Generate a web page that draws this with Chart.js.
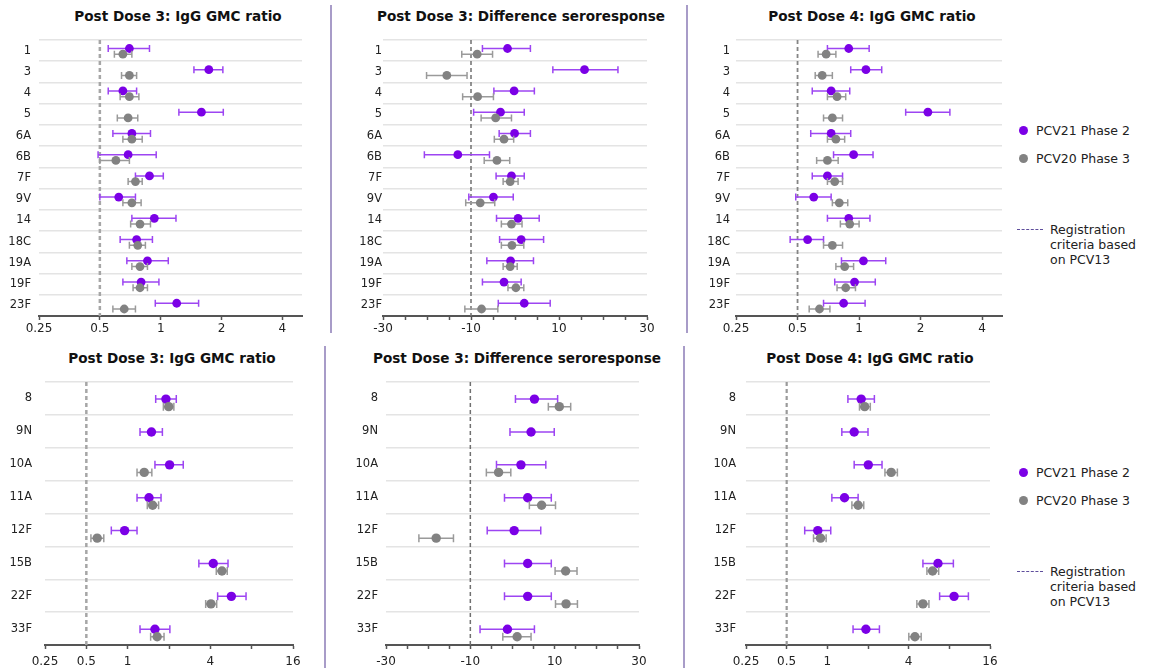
<!DOCTYPE html>
<html>
<head>
<meta charset="utf-8">
<script src="https://cdn.jsdelivr.net/npm/chart.js@4.4.1/dist/chart.umd.min.js"></script>
<style>
  body { margin: 0; background: #fff; width: 1150px; height: 670px; position: relative; overflow: hidden;
         font-family: 'DejaVu Sans', Verdana, sans-serif; color: #222; }
  canvas { position: absolute; }
  .title { position: absolute; width: 340px; text-align: center; font-weight: bold; font-size: 13.6px;
           color: #111; line-height: 16px; }
  .sep { position: absolute; width: 2px; background: #a89cc8; }
  .leg { position: absolute; font-size: 12.5px; line-height: 15px; color: #222; white-space: nowrap; }
  .dot { position: absolute; width: 9px; height: 9px; border-radius: 50%; }
  .dash { position: absolute; width: 26px; border-top: 1px dashed #5e4e9c; }
</style>
</head>
<body>

<div class="sep" style="left:330px;top:5px;height:328px"></div>
<div class="sep" style="left:686px;top:5px;height:328px"></div>
<div class="sep" style="left:324px;top:346px;height:322px"></div>
<div class="sep" style="left:683px;top:346px;height:322px"></div>

<!-- legends -->
<div class="dot" style="left:1019px;top:126px;background:#7b00e6"></div>
<div class="leg" style="left:1036px;top:123px">PCV21 Phase 2</div>
<div class="dot" style="left:1019px;top:154px;background:#828282"></div>
<div class="leg" style="left:1036px;top:151px">PCV20 Phase 3</div>
<div class="dash" style="left:1017px;top:229px"></div>
<div class="leg" style="left:1050px;top:222px">Registration<br>criteria based<br>on PCV13</div>

<div class="dot" style="left:1019px;top:468px;background:#7b00e6"></div>
<div class="leg" style="left:1036px;top:465px">PCV21 Phase 2</div>
<div class="dot" style="left:1019px;top:496px;background:#828282"></div>
<div class="leg" style="left:1036px;top:493px">PCV20 Phase 3</div>
<div class="dash" style="left:1017px;top:571px"></div>
<div class="leg" style="left:1050px;top:564px">Registration<br>criteria based<br>on PCV13</div>

<script>
// serotypes
const topSerotypes = ['1', '3', '4', '5', '6A', '6B', '7F', '9V', '14', '18C', '19A', '19F', '23F'];
const bottomSerotypes = ['8', '9N', '10A', '11A', '12F', '15B', '22F', '33F'];

// axis ticks
const gmcTicks = [0.25, 0.5, 1, 2, 4];
const gmcTickLabels = ['0.25', '0.5', '1', '2', '4'];
const gmcTicksWide = [0.25, 0.5, 1, 2, 4, 8, 16];
const gmcTickLabelsWide = ['0.25', '0.5', '1', '', '4', '', '16'];
const diffTicks = [-30, -25, -20, -15, -10, -5, 0, 5, 10, 15, 20, 25, 30];
const diffTickLabels = ['-30', '', '', '', '-10', '', '', '', '10', '', '', '', '30'];

// [estimate, lower CI, upper CI]
// Post Dose 3 IgG GMC ratio, 13 shared serotypes
const pd3GmcPcv21 = [[0.70,0.55,0.88],[1.73,1.46,2.03],[0.65,0.55,0.76],[1.59,1.23,2.04],[0.72,0.58,0.89],
  [0.69,0.49,0.95],[0.88,0.75,1.03],[0.62,0.50,0.75],[0.93,0.72,1.19],[0.76,0.63,0.91],[0.86,0.68,1.09],
  [0.80,0.65,0.98],[1.20,0.94,1.54]];
const pd3GmcPcv20 = [[0.65,0.59,0.72],[0.70,0.64,0.76],[0.70,0.63,0.78],[0.69,0.61,0.77],[0.72,0.65,0.81],
  [0.60,0.50,0.70],[0.75,0.69,0.81],[0.72,0.65,0.80],[0.79,0.71,0.89],[0.77,0.70,0.84],[0.79,0.72,0.86],
  [0.79,0.73,0.86],[0.66,0.58,0.75]];
// Post Dose 3 difference in seroresponse
const pd3DiffPcv21 = [[-1.7,-7.4,3.5],[15.8,8.6,23.4],[-0.2,-4.8,4.4],[-3.3,-9.4,2.1],[-0.1,-3.6,3.5],
  [-13.0,-20.6,-5.8],[-0.8,-4.3,2.1],[-4.9,-10.5,-0.4],[0.7,-4.2,5.5],[1.4,-3.5,6.5],[-1.0,-6.4,4.2],
  [-2.5,-7.4,1.4],[2.1,-3.8,8.0]];
const pd3DiffPcv20 = [[-8.6,-12.1,-5.1],[-15.5,-20.1,-10.9],[-8.5,-11.9,-4.9],[-4.4,-7.7,-0.8],[-2.5,-4.7,-0.3],
  [-4.1,-7.0,-1.2],[-1.1,-2.7,0.7],[-7.9,-11.2,-4.6],[-0.8,-3.1,1.6],[-0.7,-3.1,2.0],[-1.1,-2.7,0.5],
  [0.2,-1.6,2.0],[-7.6,-11.4,-3.9]];
// Post Dose 4 IgG GMC ratio
const pd4GmcPcv21 = [[0.89,0.70,1.12],[1.08,0.91,1.29],[0.73,0.59,0.90],[2.17,1.69,2.78],[0.73,0.58,0.91],
  [0.94,0.75,1.17],[0.70,0.59,0.83],[0.60,0.49,0.73],[0.89,0.70,1.13],[0.56,0.46,0.67],[1.05,0.82,1.35],
  [0.95,0.76,1.20],[0.84,0.67,1.07]];
const pd4GmcPcv20 = [[0.69,0.63,0.77],[0.66,0.61,0.74],[0.78,0.70,0.86],[0.74,0.67,0.83],[0.77,0.70,0.85],
  [0.70,0.62,0.79],[0.76,0.70,0.83],[0.80,0.74,0.88],[0.90,0.81,1.00],[0.74,0.67,0.83],[0.85,0.77,0.94],
  [0.86,0.78,0.96],[0.64,0.57,0.72]];

// 8 additional serotypes (no PCV20 value for 9N)
const pd3GmcNewPcv21 = [[1.90,1.60,2.26],[1.49,1.23,1.79],[2.02,1.58,2.54],[1.43,1.17,1.75],[0.95,0.76,1.17],
  [4.20,3.30,5.38],[5.69,4.52,7.28],[1.58,1.23,2.03]];
const pd3GmcNewPcv20 = [[1.99,1.82,2.17],null,[1.32,1.17,1.50],[1.52,1.39,1.68],[0.60,0.54,0.67],
  [4.86,4.42,5.31],[4.04,3.70,4.45],[1.64,1.47,1.84]];
const pd3DiffNewPcv21 = [[5.2,0.7,10.7],[4.4,-0.6,9.9],[2.0,-3.8,7.9],[3.6,-1.9,9.2],[0.4,-6.0,6.7],
  [3.6,-1.9,9.2],[3.6,-1.9,9.2],[-1.2,-7.7,5.2]];
const pd3DiffNewPcv20 = [[11.1,8.5,13.8],null,[-3.3,-6.2,-0.4],[6.9,4.0,10.2],[-18.1,-22.2,-14.0],
  [12.6,10.1,15.3],[12.7,10.2,15.4],[1.1,-2.3,4.4]];
const pd4GmcNewPcv21 = [[1.78,1.42,2.23],[1.58,1.28,2.00],[2.01,1.58,2.54],[1.34,1.08,1.69],[0.85,0.68,1.06],
  [6.59,5.10,8.57],[8.67,6.78,11.07],[1.93,1.55,2.43]];
const pd4GmcNewPcv20 = [[1.89,1.73,2.08],null,[2.97,2.67,3.30],[1.69,1.52,1.86],[0.89,0.79,0.98],
  [6.01,5.46,6.67],[5.10,4.60,5.65],[4.45,4.01,4.95]];

const gmcRef = 0.5;
const diffRef = -10;

Chart.defaults.font.family = "'DejaVu Sans', Verdana, sans-serif";
Chart.defaults.color = '#222';

// draws the CI whiskers of a dataset just before its dots
const errorBars = {
  id: 'errorBars',
  beforeDatasetDraw(chart, args) {
    const ds = chart.data.datasets[args.index];
    if (!ds.ci) return;
    const ctx = chart.ctx, xs = chart.scales.x, ys = chart.scales.y;
    const cap = ds.capSize;
    ctx.save();
    ctx.strokeStyle = ds.barColor;
    ctx.lineWidth = 1.5;
    ds.data.forEach(function(p, i) {
      const y = ys.getPixelForValue(p.y);
      const x1 = xs.getPixelForValue(ds.ci[i][0]);
      const x2 = xs.getPixelForValue(ds.ci[i][1]);
      ctx.beginPath();
      ctx.moveTo(x1, y); ctx.lineTo(x2, y);
      ctx.moveTo(x1, y - cap); ctx.lineTo(x1, y + cap);
      ctx.moveTo(x2, y - cap); ctx.lineTo(x2, y + cap);
      ctx.stroke();
    });
    ctx.restore();
  }
};

function series(rows, shift) {
  let pts = [], ci = [];
  rows.forEach(function(r, i) {
    if (!r) return;
    pts.push({ x: r[0], y: i + shift });
    ci.push([r[1], r[2]]);
  });
  return { pts: pts, ci: ci };
}

const panels = [
  { title: 'Post Dose 3: IgG GMC ratio', cats: topSerotypes, a: pd3GmcPcv21, b: pd3GmcPcv20, log: true,
    min: 0.25, max: 5, ticks: gmcTicks, labels: gmcTickLabels, ref: gmcRef,
    L: 39, R: 302, T: 40, B: 316, gap: 8, tc: 178, ty: 8, refW: 2.5, refC: '#a6a6a6' },
  { title: 'Post Dose 3: Difference seroresponse', cats: topSerotypes, a: pd3DiffPcv21, b: pd3DiffPcv20, log: false,
    min: -30, max: 30, ticks: diffTicks, labels: diffTickLabels, ref: diffRef,
    L: 383, R: 647, T: 40, B: 316, gap: 1, tc: 521, ty: 8, refW: 1.5, refC: '#707070' },
  { title: 'Post Dose 4: IgG GMC ratio', cats: topSerotypes, a: pd4GmcPcv21, b: pd4GmcPcv20, log: true,
    min: 0.25, max: 5, ticks: gmcTicks, labels: gmcTickLabels, ref: gmcRef,
    L: 736, R: 1002, T: 40, B: 316, gap: 6, tc: 872, ty: 8, refW: 1.8, refC: '#858585' },
  { title: 'Post Dose 3: IgG GMC ratio', cats: bottomSerotypes, a: pd3GmcNewPcv21, b: pd3GmcNewPcv20, log: true,
    min: 0.25, max: 16, ticks: gmcTicksWide, labels: gmcTickLabelsWide, ref: gmcRef,
    L: 45, R: 293, T: 382, B: 645, gap: 13, tc: 172, ty: 350, refW: 2.5, refC: '#a6a6a6' },
  { title: 'Post Dose 3: Difference seroresponse', cats: bottomSerotypes, a: pd3DiffNewPcv21, b: pd3DiffNewPcv20, log: false,
    min: -30, max: 30, ticks: diffTicks, labels: diffTickLabels, ref: diffRef,
    L: 386, R: 639, T: 382, B: 645, gap: 8, tc: 517, ty: 350, refW: 1.5, refC: '#707070' },
  { title: 'Post Dose 4: IgG GMC ratio', cats: bottomSerotypes, a: pd4GmcNewPcv21, b: pd4GmcNewPcv20, log: true,
    min: 0.25, max: 16, ticks: gmcTicksWide, labels: gmcTickLabelsWide, ref: gmcRef,
    L: 746, R: 990, T: 382, B: 645, gap: 10, tc: 870, ty: 350, refW: 2.2, refC: '#9a9a9a' }
];

const yw = 60, pt = 8, pr = 14, xh = 26;

panels.forEach(function(p, k) {
  const top = k < 3;
  const n = p.cats.length;

  let t = document.createElement('div');
  t.className = 'title';
  t.style.left = (p.tc - 170) + 'px';
  t.style.top = p.ty + 'px';
  t.textContent = p.title;
  document.body.appendChild(t);

  let cv = document.createElement('canvas');
  let w = yw + (p.R - p.L) + pr, h = pt + (p.B - p.T) + xh;
  cv.width = w; cv.height = h;
  cv.style.left = (p.L - yw) + 'px';
  cv.style.top = (p.T - pt) + 'px';
  document.body.appendChild(cv);

  const purple = series(p.a, top ? -0.1 : 0.02);
  const gray = series(p.b, top ? 0.17 : 0.25);
  const r = top ? 4.4 : 4.7;

  new Chart(cv.getContext('2d'), {
    type: 'scatter',
    data: {
      datasets: [
        { label: 'PCV20 Phase 3', data: gray.pts, ci: gray.ci, barColor: '#9a9a9a', capSize: top ? 3.5 : 4,
          backgroundColor: '#828282', borderWidth: 0, pointRadius: r },
        { label: 'PCV21 Phase 2', data: purple.pts, ci: purple.ci, barColor: '#9d45f2', capSize: top ? 3.5 : 4,
          backgroundColor: '#7b00e6', borderWidth: 0, pointRadius: r },
        { label: 'ref', data: [{ x: p.ref, y: -0.5 }, { x: p.ref, y: n - 0.5 }], showLine: true,
          borderColor: p.refC, borderWidth: p.refW, borderDash: [4, 3], pointRadius: 0 }
      ]
    },
    options: {
      responsive: false,
      animation: false,
      devicePixelRatio: 1,
      layout: { padding: { top: pt, right: pr, left: 0, bottom: 0 } },
      plugins: { legend: { display: false }, tooltip: { enabled: false } },
      scales: {
        x: {
          type: p.log ? 'logarithmic' : 'linear',
          min: p.min, max: p.max,
          afterBuildTicks: function(s) { s.ticks = p.ticks.map(function(v) { return { value: v }; }); },
          ticks: {
            autoSkip: false, maxRotation: 0, padding: top ? 2 : 6, font: { size: 12 }, color: '#222',
            callback: function(v) { return p.labels[p.ticks.indexOf(v)]; }
          },
          grid: { drawOnChartArea: false, drawTicks: true, tickLength: 4, tickColor: '#555', tickWidth: 1.5 },
          border: { color: '#555', width: 2 },
          afterFit: function(s) { s.height = xh; s.paddingLeft = 0; s.paddingRight = 0; }
        },
        y: {
          type: 'linear', reverse: true, min: -0.5, max: n - 0.5,
          afterBuildTicks: function(s) {
            let tk = [];
            for (let v = -0.5; v <= n - 0.5; v += 0.5) tk.push({ value: v });
            s.ticks = tk;
          },
          ticks: {
            autoSkip: false, padding: p.gap, font: { size: 11.5 }, color: '#222',
            callback: function(v) { return Number.isInteger(v) ? p.cats[v] : ''; }
          },
          grid: {
            drawTicks: false, lineWidth: 1.5,
            color: function(c) {
              if (!c.tick || Number.isInteger(c.tick.value) || c.tick.value > n - 1) return 'rgba(0,0,0,0)';
              return '#e4e4e4';
            }
          },
          border: { display: false },
          afterFit: function(s) { s.width = yw; s.paddingTop = 0; s.paddingBottom = 0; }
        }
      }
    },
    plugins: [errorBars]
  });
});
</script>
</body>
</html>
